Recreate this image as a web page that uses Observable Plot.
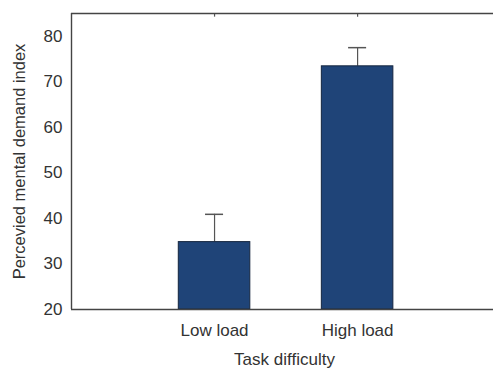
<!DOCTYPE html>
<html>
<head>
<meta charset="utf-8">
<script src="https://cdn.jsdelivr.net/npm/d3@7"></script>
<script src="https://cdn.jsdelivr.net/npm/@observablehq/plot@0.6"></script>
<style>
  html, body { margin: 0; padding: 0; background: #fff; overflow: hidden; }
</style>
</head>
<body>
<div id="chart"></div>
<script>
const categories = ["Low load", "High load"];
const positions = [1, 2];
const means = [34.8, 73.4];
const upperErrors = [40.9, 77.5];
const xDomain = [0, 2.95];
const yDomain = [20, 85];
const yTicks = [20, 30, 40, 50, 60, 70, 80];
const xLabel = "Task difficulty";
const yLabel = "Percevied mental demand index";

const data = categories.map((c, i) => ({category: c, pos: positions[i], mean: means[i], upper: upperErrors[i]}));

const barHalf = 0.25;
const capHalf = 0.063;
const axisColor = "#444";
const textColor = "#333";
const font = "Liberation Sans, Arial, sans-serif";

const plot = Plot.plot({
  width: 493,
  height: 370,
  marginLeft: 71,
  marginRight: 0,
  marginTop: 13,
  marginBottom: 61,
  style: {fontFamily: font, fontSize: "17px", color: textColor, background: "#fff"},
  x: {domain: xDomain, ticks: positions, tickFormat: d => categories[positions.indexOf(d)] ?? "",
      label: null, tickSize: 0, tickPadding: 14},
  y: {domain: yDomain, label: null, ticks: yTicks, tickSize: 0, tickPadding: 9},
  marks: [
    Plot.ruleX(data, {x: "pos", y1: "mean", y2: "upper", stroke: "#555", strokeWidth: 1.2}),
    Plot.ruleY(data, {y: "upper", x1: d => d.pos - capHalf, x2: d => d.pos + capHalf, stroke: "#555", strokeWidth: 1.5}),
    Plot.rect(data, {x1: d => d.pos - barHalf, x2: d => d.pos + barHalf, y1: yDomain[0], y2: "mean",
      fill: "#1f4478", stroke: "#14253f", strokeWidth: 1}),
    Plot.ruleX(data, {x: "pos", y1: yDomain[1], y2: yDomain[1] - 0.8, stroke: "#555", strokeWidth: 1.2}),
    Plot.ruleY(yDomain, {stroke: axisColor, strokeWidth: 1.4}),
    Plot.ruleX([xDomain[0]], {stroke: axisColor, strokeWidth: 1.4}),
    Plot.text([yLabel], {frameAnchor: "left", rotate: -90, dx: -58, lineAnchor: "top", textAnchor: "middle", fontSize: 16.5, fill: textColor}),
    Plot.text([xLabel], {frameAnchor: "bottom", dx: 2, dy: 55, lineAnchor: "bottom", fontSize: 17, fill: textColor})
  ]
});
document.getElementById("chart").appendChild(plot);
</script>
</body>
</html>
